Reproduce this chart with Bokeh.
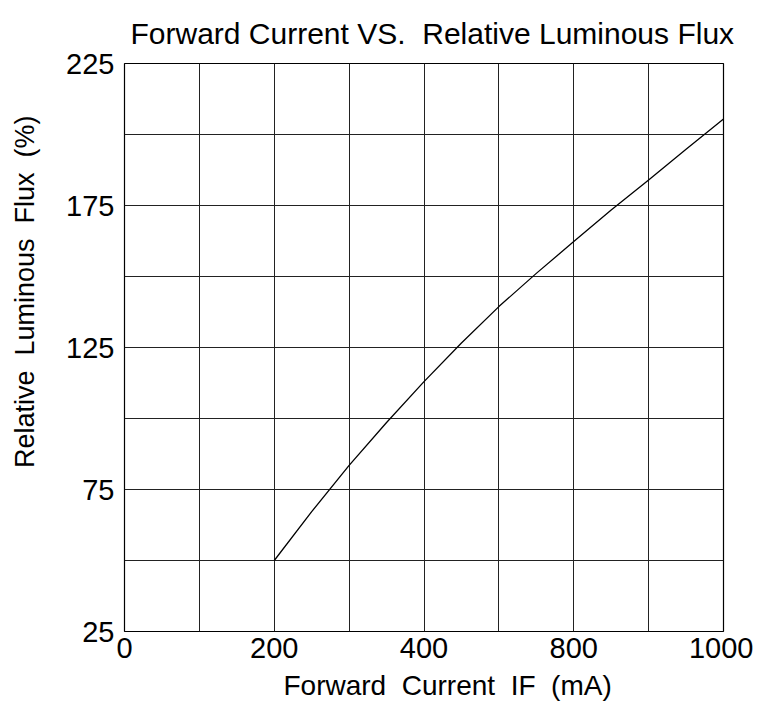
import numpy as np
from bokeh.plotting import figure
from bokeh.models import Range1d, FixedTicker, Title
from bokeh.embed import file_html
from bokeh.resources import INLINE

# Data
current_ma = [200, 250, 300, 350, 400, 500, 600, 700, 800, 850, 900, 950, 1000]
rel_flux = [50, 67.2, 83.5, 98.6, 113, 126.6, 139.4, 151.1, 162.3, 173.4, 184, 194.8, 205.5]

# Axis as printed in the datasheet: labels sit on every second grid column
x_tick_values = [0, 200, 400, 800, 1000]
x_tick_cols = [0, 2, 4, 6, 8]
x_grid_cols = [1, 2, 3, 4, 5, 6, 7]
y_ticks = [25, 75, 125, 175, 225]
y_grid = [50, 75, 100, 125, 150, 175, 200]

FONT = "Liberation Sans"
NB = "\u00a0"

x_pos = np.interp(current_ma, x_tick_values, x_tick_cols)

p = figure(width=753, height=707, output_backend="svg", toolbar_location=None,
           x_range=Range1d(0, 8), y_range=Range1d(25, 225),
           min_border_left=124, min_border_right=30, min_border_top=63, min_border_bottom=10)
p.background_fill_color = "white"
p.border_fill_color = "white"
p.outline_line_color = "black"
p.outline_line_width = 1.2

p.line(x_pos, rel_flux, line_color="black", line_width=1.3)

# axes
p.xaxis.ticker = FixedTicker(ticks=x_tick_cols)
p.xaxis.major_label_overrides = {c: str(v) for c, v in zip(x_tick_cols, x_tick_values)}
p.yaxis.ticker = FixedTicker(ticks=y_ticks)
for ax in (p.xaxis[0], p.yaxis[0]):
    ax.axis_line_color = None
    ax.major_tick_line_color = None
    ax.minor_tick_line_color = None
    ax.major_tick_out = 0
    ax.major_tick_in = 0
    ax.major_label_text_font = FONT
    ax.major_label_text_font_size = "29px"
    ax.major_label_text_color = "black"
p.xaxis.major_label_standoff = 6
p.yaxis.major_label_standoff = 10

p.xgrid.ticker = FixedTicker(ticks=x_grid_cols)
p.ygrid.ticker = FixedTicker(ticks=y_grid)
p.grid.grid_line_color = "#222222"
p.grid.grid_line_width = 1

title = Title(text="Forward Current VS." + NB + NB + "Relative Luminous Flux",
              align="left", offset=6, text_font=FONT, text_font_size="30px",
              text_font_style="normal", text_color="black", standoff=28)
xlab = Title(text="Forward" + NB + NB + "Current" + NB + NB + "IF" + NB + NB + "(mA)",
             align="left", offset=159, text_font=FONT, text_font_size="28px",
             text_font_style="normal", text_color="black", standoff=14)
ylab = Title(text="Relative" + NB + NB + "Luminous" + NB + NB + "Flux" + NB + NB + "(%)",
             align="right", offset=52, text_font=FONT, text_font_size="27px",
             text_font_style="normal", text_color="black", standoff=4)
spacer = Title(text=NB, text_font=FONT, text_font_size="10px", standoff=9)
p.add_layout(title, "above")
p.add_layout(xlab, "below")
p.add_layout(spacer, "left")
p.add_layout(ylab, "left")

open("out.html", "w").write(file_html(p, INLINE))
